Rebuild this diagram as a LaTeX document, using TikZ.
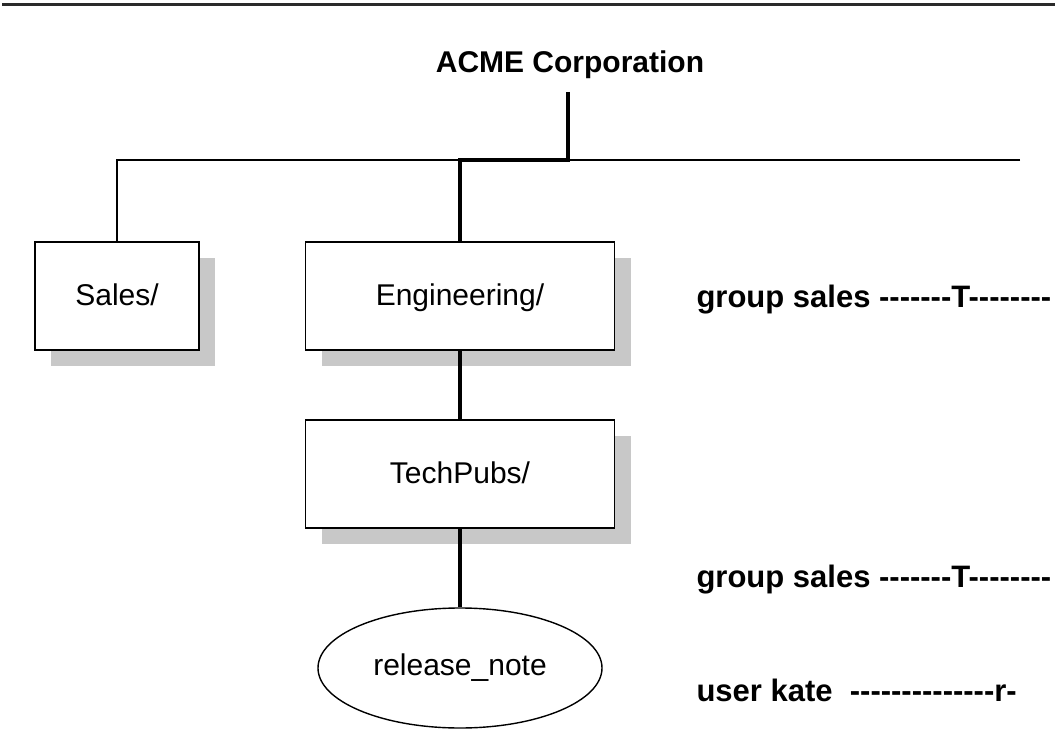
\documentclass[tikz,border=0pt]{standalone}
\usepackage{fontspec}
\setmainfont{Liberation Sans}[Ligatures=TeXOff]
\usepackage{xcolor}
\usetikzlibrary{shapes.geometric,shadows}
\definecolor{shadeGray}{HTML}{C8C8C8}
\definecolor{ruleGray}{HTML}{2A2A2A}

\begin{document}
\begin{tikzpicture}[x=1pt, y=-1pt,
    dirbox/.style={rectangle, draw, line width=1.6, fill=white, minimum height=108pt,
        font=\fontsize{30}{34}\selectfont, text height=22pt, text depth=4pt,
        drop shadow={shadow xshift=16pt, shadow yshift=-16pt, fill=shadeGray, opacity=1}},
    filebub/.style={ellipse, draw, line width=1.4, minimum width=284pt, minimum height=120pt,
        font=\fontsize{30}{34}\selectfont},
    permtxt/.style={anchor=west, font=\bfseries\fontsize{31}{36}\selectfont},
    trunk/.style={line width=3.5},
    rail/.style={line width=1.5}]
    \useasboundingbox (0,0) rectangle (1055,730);

    \coordinate (ruleL) at (2,5);
    \coordinate (ruleR) at (1055,5);
    \draw[ruleGray, line width=3] (ruleL) -- (ruleR);

    \node[font=\bfseries\fontsize{30}{35}\selectfont] (acme) at (570,65) {ACME Corporation};
    \node[dirbox, minimum width=164pt] (sales) at (117,296) {Sales/};
    \node[dirbox, minimum width=309pt] (eng) at (460,296) {Engineering/};
    \node[dirbox, minimum width=309pt] (pubs) at (460,474) {TechPubs/};
    \node[filebub] (note) at (460,668) {release\_note};

    \node[permtxt] (engperm) at (693,300) {group sales -------T--------};
    \node[permtxt] (pubsperm) at (693,580) {group sales -------T--------};
    \node[permtxt] (noteperm) at (693,690) {user kate\ \ --------------r-};

    \coordinate (drop) at (568,92);
    \coordinate (bend) at (460,160);
    \coordinate (railL) at (117,160);
    \coordinate (railR) at (1020,160);

    \draw[rail] (railR) -- (railL) -- (sales.north);
    \draw[trunk] (drop) |- (bend) -- (eng.north);
    \draw[trunk] (eng.south) -- (pubs.north);
    \draw[trunk] (pubs.south) -- (note.north);
\end{tikzpicture}
\end{document}
